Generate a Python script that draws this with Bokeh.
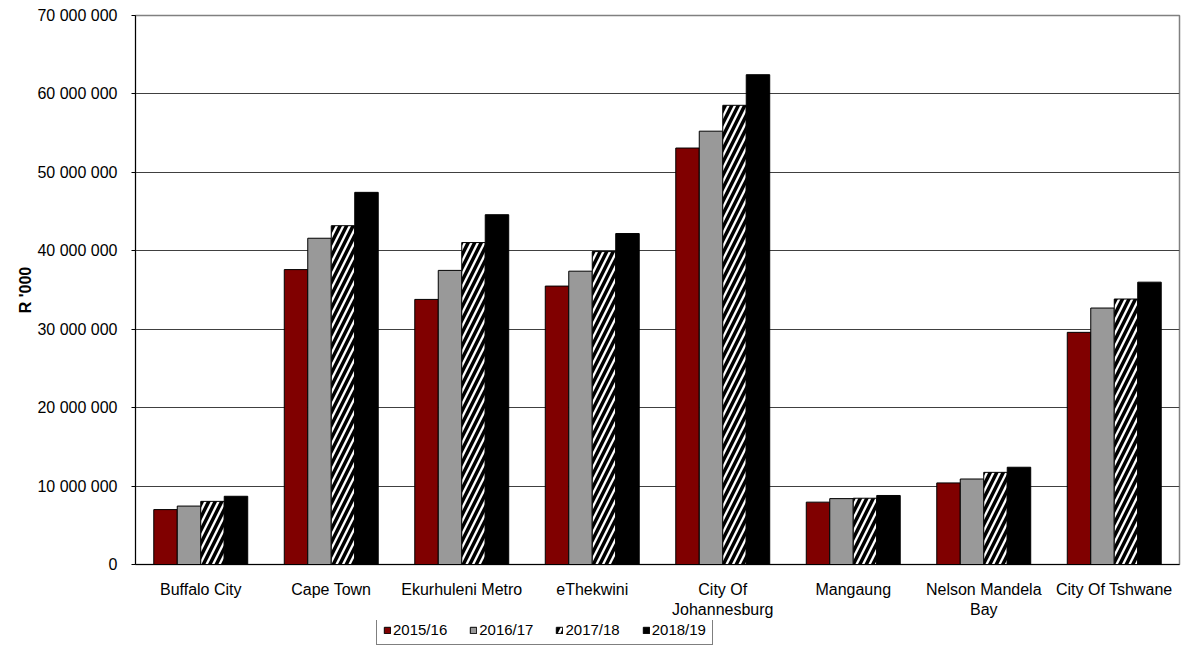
from bokeh.plotting import figure
from bokeh.layouts import column
from bokeh.models import ColumnDataSource, FixedTicker, Legend, LegendItem, Range1d
from bokeh.transform import dodge
from bokeh.embed import file_html
from bokeh.resources import INLINE

# Operating budget per metro, R '000
cities = ["Buffalo City", "Cape Town", "Ekurhuleni Metro", "eThekwini",
          "City Of\nJohannesburg", "Mangaung", "Nelson Mandela\nBay", "City Of Tshwane"]
years = ["2015/16", "2016/17", "2017/18", "2018/19"]
v2015 = [7_000_000, 37_600_000, 33_800_000, 35_500_000, 53_100_000, 7_950_000, 10_400_000, 29_600_000]
v2016 = [7_450_000, 41_600_000, 37_500_000, 37_400_000, 55_250_000, 8_400_000, 10_900_000, 32_700_000]
v2017 = [8_050_000, 43_200_000, 41_050_000, 39_900_000, 58_550_000, 8_450_000, 11_750_000, 33_850_000]
v2018 = [8_700_000, 47_450_000, 44_600_000, 42_200_000, 62_450_000, 8_800_000, 12_400_000, 36_000_000]
y_ticks = [0, 10_000_000, 20_000_000, 30_000_000, 40_000_000, 50_000_000, 60_000_000, 70_000_000]

FONT = "Liberation Sans"

# Bar styles, one per financial year
styles = [
    dict(fill_color="#800000", line_color="#000000", line_width=1),
    dict(fill_color="#999999", line_color="#000000", line_width=1),
    dict(fill_color="#ffffff", line_color="#000000", line_width=1,
         hatch_pattern="/", hatch_color="#000000", hatch_scale=13, hatch_weight=3.5),
    dict(fill_color="#000000", line_color="#000000", line_width=1),
]

src = ColumnDataSource(dict(x=list(range(len(cities))), a=v2015, b=v2016, c=v2017, d=v2018))

p = figure(width=1187, height=620, output_backend="svg", toolbar_location=None,
           x_range=Range1d(-0.5, len(cities) - 0.5), y_range=Range1d(0, 70_000_000),
           min_border_left=135, min_border_right=8, min_border_top=15, min_border_bottom=56)

bw = 0.18
for col, off, st in zip(["a", "b", "c", "d"], [-1.5, -0.5, 0.5, 1.5], styles):
    p.vbar(x=dodge("x", off * bw), top=col, width=bw, source=src, **st)

# Axes
p.xaxis.ticker = FixedTicker(ticks=list(range(len(cities))))
p.xaxis.major_label_overrides = {i: c for i, c in enumerate(cities)}
p.xaxis.major_tick_line_color = None
p.xaxis.minor_tick_line_color = None
p.xaxis.major_label_standoff = 10
p.xaxis.axis_line_color = "#000000"

p.yaxis.ticker = FixedTicker(ticks=y_ticks)
p.yaxis.major_label_overrides = {t: f"{t:,}".replace(",", " ") for t in y_ticks}
p.yaxis.major_tick_out = 4
p.yaxis.major_tick_in = 0
p.yaxis.minor_tick_line_color = None
p.yaxis.major_label_standoff = 14
p.yaxis.axis_line_color = "#000000"
p.yaxis.axis_label = "R '000"
p.yaxis.axis_label_text_font_style = "bold"
p.yaxis.axis_label_text_font = FONT
p.yaxis.axis_label_text_font_size = "16px"
p.yaxis.axis_label_text_color = "#000000"
p.yaxis.axis_label_standoff = 0

for ax in (p.xaxis, p.yaxis):
    ax.major_label_text_font = FONT
    ax.major_label_text_font_size = "16px"
    ax.major_label_text_color = "#000000"

p.xgrid.grid_line_color = None
p.ygrid.ticker = FixedTicker(ticks=y_ticks)
p.ygrid.grid_line_color = "#404040"
p.ygrid.grid_line_width = 1

p.outline_line_color = "#808080"
p.outline_line_width = 1.5

# Legend strip underneath the chart; its keys come from off-range bars
lp = figure(width=1187, height=28, output_backend="svg", toolbar_location=None,
            x_range=Range1d(0, 1), y_range=Range1d(0, 1),
            x_axis_type=None, y_axis_type=None,
            min_border_left=0, min_border_right=0, min_border_top=0, min_border_bottom=0)
lp.outline_line_color = None
lp.grid.grid_line_color = None
key_src = ColumnDataSource(dict(x=[50.0], top=[0.0]))
items = []
for yr, st in zip(years, styles):
    r = lp.vbar(x="x", top="top", width=0.1, source=key_src, **st)
    items.append(LegendItem(label=yr, renderers=[r]))

legend = Legend(items=items, orientation="horizontal", location=(241, 3),
                glyph_width=8, glyph_height=8, label_standoff=2, spacing=22,
                padding=6, margin=0, label_height=11,
                label_text_font=FONT, label_text_font_size="15px",
                label_text_color="#000000",
                border_line_color="#000000", border_line_width=1,
                background_fill_color="#ffffff")
lp.add_layout(legend, "center")

layout = column(p, lp, spacing=0)
open("out.html", "w").write(file_html(layout, INLINE))
